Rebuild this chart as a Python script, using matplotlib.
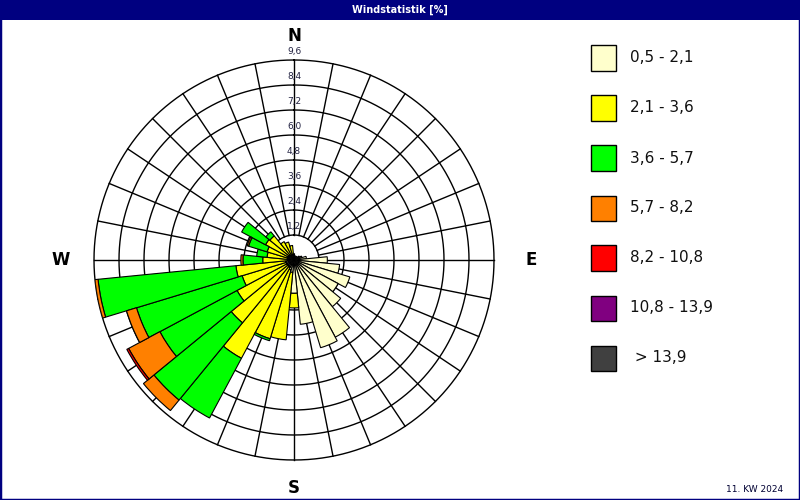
import numpy as np
import matplotlib.pyplot as plt
from matplotlib.patches import Rectangle

# 32 Sektoren, je 11,25 Grad, im Uhrzeigersinn ab Nord
directions = np.arange(32) * 11.25

classes = ['0,5 - 2,1', '2,1 - 3,6', '3,6 - 5,7', '5,7 - 8,2',
           '8,2 - 10,8', '10,8 - 13,9', ' > 13,9']
colors = ['#FFFFCC', '#FFFF00', '#00FF00', '#FF8000',
          '#FF0000', '#800080', '#404040']

# Haeufigkeit [%] je Sektor und Klasse
v_05_21 = [0.3, 0.2, 0.2, 0.2, 0.2, 0.3, 0.4, 0.6,
           1.6, 2.2, 2.8, 2.4, 2.9, 4.2, 4.4, 3.1,
           1.6, 0.6, 0.5, 0.4, 0.4, 0.4, 0.4, 0.4,
           0.3, 0.3, 0.3, 0.3, 0.3, 0.2, 0.2, 0.2]
v_21_36 = [0, 0, 0, 0, 0, 0, 0, 0,
           0, 0, 0, 0, 0, 0, 0, 0,
           0.7, 3.25, 3.45, 4.95, 3.5, 2.7, 2.2, 2.4,
           1.2, 1.0, 1.05, 1.25, 1.2, 0.8, 0.7, 0.5]
v_36_57 = [0, 0, 0, 0, 0, 0, 0, 0,
           0, 0, 0, 0, 0, 0, 0, 0,
           0, 0, 0.1, 3.25, 4.8, 4.2, 5.3, 6.65,
           0.95, 0.5, 0.93, 1.3, 0.25, 0, 0, 0]
v_57_82 = [0, 0, 0, 0, 0, 0, 0, 0,
           0, 0, 0, 0, 0, 0, 0, 0,
           0, 0, 0, 0, 0.65, 1.7, 0.5, 0.15,
           0.1, 0, 0.07, 0, 0, 0, 0, 0]
v_82_108 = [0] * 21 + [0.1] + [0] * 10
v_108_139 = [0] * 32
v_139 = [0] * 32

series = [v_05_21, v_21_36, v_36_57, v_57_82, v_82_108, v_108_139, v_139]

rings = [1.2, 2.4, 3.6, 4.8, 6.0, 7.2, 8.4, 9.6]
ring_labels = ['1,2', '2,4', '3,6', '4,8', '6,0', '7,2', '8,4', '9,6']

fig = plt.figure(figsize=(8, 5), dpi=100)
fig.patch.set_facecolor('white')

# Rahmen und Titelleiste
fig.patches.append(Rectangle((0, 0), 1, 1, transform=fig.transFigure,
                             fill=False, edgecolor='#000080', lw=2.5))
fig.patches.append(Rectangle((0, 1 - 20 / 500), 1, 20 / 500, transform=fig.transFigure,
                             facecolor='#000080', edgecolor='none'))
fig.text(0.5, 1 - 10 / 500, 'Windstatistik [%]', color='white', fontsize=7,
         fontweight='bold', ha='center', va='center')

ax = fig.add_axes([0.1175, 0.08, 0.5, 0.8], projection='polar')
ax.set_theta_zero_location('N')
ax.set_theta_direction(-1)
ax.set_ylim(0, 9.6)
ax.axis('off')

# Gitter
t = np.linspace(0, 2 * np.pi, 721)
for r in rings:
    ax.plot(t, np.full_like(t, r), color='black', lw=1, clip_on=False, zorder=1)
for d in directions:
    a = np.deg2rad(d)
    ax.plot([a, a], [rings[0], rings[-1]], color='black', lw=1, clip_on=False, zorder=1)

# gestapelte Balken
theta = np.deg2rad(directions)
width = np.deg2rad(11.25)
bottom = np.zeros(32)
for vals, col in zip(series, colors):
    vals = np.array(vals, dtype=float)
    m = vals > 0
    if m.any():
        ax.bar(theta[m], vals[m], width=width, bottom=bottom[m], color=col,
               edgecolor='black', linewidth=0.8, zorder=2)
    bottom += vals

for r, lab in zip(rings, ring_labels):
    ax.text(0, r + 0.4, lab, fontsize=6.5, color='#202040', ha='center', va='center', zorder=3)

ax.text(0, 10.75, 'N', fontsize=12, fontweight='bold', ha='center', va='center', clip_on=False)
ax.text(np.pi / 2, 11.4, 'E', fontsize=12, fontweight='bold', ha='center', va='center', clip_on=False)
ax.text(np.pi, 10.95, 'S', fontsize=12, fontweight='bold', ha='center', va='center', clip_on=False)
ax.text(1.5 * np.pi, 11.2, 'W', fontsize=12, fontweight='bold', ha='center', va='center', clip_on=False)

# Legende
for i, (lab, col) in enumerate(zip(classes, colors)):
    yc = 58 + 50 * i
    fig.patches.append(Rectangle((591 / 800, 1 - (yc + 12.5) / 500), 25 / 800, 25 / 500,
                                 transform=fig.transFigure, facecolor=col,
                                 edgecolor='black', lw=1))
    fig.text(630 / 800, 1 - yc / 500, lab, fontsize=11, ha='left', va='center', color='#101010')

fig.text(755 / 800, 1 - 489 / 500, '11. KW 2024', fontsize=6.5, ha='center', va='center',
         color='#000033')

fig.savefig('out.png', dpi=100)
